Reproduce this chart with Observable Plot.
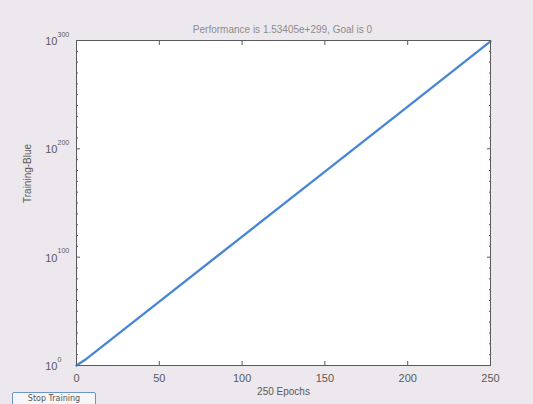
<!DOCTYPE html>
<html>
<head>
<meta charset="utf-8">
<script src="https://cdn.jsdelivr.net/npm/d3@7"></script>
<script src="https://cdn.jsdelivr.net/npm/@observablehq/plot@0.6"></script>
<style>
  html, body { margin: 0; padding: 0; background: #ece8ed; }
  #wrap { position: relative; width: 533px; height: 404px; overflow: hidden; }
  #btn { position: absolute; left: 12px; top: 392px; width: 84px; height: 16px; box-sizing: border-box;
         border: 1px solid #6f93c8; border-radius: 2px; background: #f6f6f8; font: 8px "DejaVu Sans", sans-serif;
         color: #555; text-align: center; line-height: 12px; }
</style>
</head>
<body>
<div id="wrap"><div id="btn">Stop Training</div></div>
<script>
// Data
const epochs = [0, 2, 5, 10, 25, 50, 100, 150, 200, 250];
const performance = [1, 1e2, 1e5, 1e11, 1e29, 1e59, 1e119, 1e179, 1e239, 1.53405e299];
const xTicks = [0, 50, 100, 150, 200, 250];
const yTickExponents = [0, 100, 200, 300];
const yTicks = [1e0, 1e100, 1e200, 1e300];
const minorExponents = [10,20,30,40,50,60,70,80,90,110,120,130,140,150,160,170,180,190,210,220,230,240,250,260,270,280,290];
const titleText = "Performance is 1.53405e+299, Goal is 0";
const xLabel = "250 Epochs";
const yLabel = "Training-Blue";

const data = epochs.map((e, i) => ({epoch: e, perf: performance[i]}));
const minorTicks = minorExponents.map(e => Math.pow(10, e));
const gray = "#5a5a5a";

const chart = Plot.plot({
  width: 533,
  height: 404,
  marginLeft: 76,
  marginRight: 43,
  marginTop: 40,
  marginBottom: 39,
  style: {background: "transparent", fontFamily: "Arial, 'Liberation Sans', sans-serif", color: gray},
  x: {domain: [0, 250], ticks: xTicks},
  y: {type: "log", domain: [1, 1e300], ticks: yTicks},
  marks: [
    Plot.frame({fill: "white", stroke: "none"}),
    Plot.axisX({anchor: "bottom", ticks: xTicks, tickSize: -4, tickPadding: 13, fontSize: 11, label: null, stroke: gray}),
    Plot.axisX({anchor: "top", ticks: xTicks, tickSize: -4, tickFormat: () => "", label: null, stroke: gray}),
    Plot.axisY({anchor: "left", ticks: yTicks, tickSize: -4, tickFormat: () => "", label: null, stroke: gray}),
    Plot.axisY({anchor: "right", ticks: yTicks, tickSize: -4, tickFormat: () => "", label: null, stroke: gray}),
    Plot.axisY({anchor: "left", ticks: minorTicks, tickSize: -2, tickFormat: () => "", label: null, stroke: gray}),
    Plot.axisY({anchor: "right", ticks: minorTicks, tickSize: -2, tickFormat: () => "", label: null, stroke: gray}),
    Plot.text(yTicks, {y: d => d, frameAnchor: "left", text: () => "10", textAnchor: "end", dx: -19, dy: 1, fontSize: 11, fill: gray}),
    Plot.text(yTicks, {y: d => d, frameAnchor: "left", text: (d, i) => String(yTickExponents[i]), textAnchor: "start", dx: -19, dy: -6, fontSize: 7, fill: gray}),
    Plot.text([xLabel], {frameAnchor: "bottom", dx: 0, dy: 29, text: d => d, fontSize: 10, fill: gray}),
    Plot.text([yLabel], {frameAnchor: "left", dx: -49, rotate: -90, text: d => d, fontSize: 10, fill: gray}),
    Plot.text([titleText], {frameAnchor: "top", dx: -1, dy: -15, text: d => d, fontSize: 10, fill: "#8c8c8c"}),
    Plot.line(data, {x: "epoch", y: "perf", stroke: "#4a86d6", strokeWidth: 2.4}),
    Plot.frame({stroke: gray, strokeWidth: 1})
  ]
});
document.getElementById("wrap").prepend(chart);
</script>
</body>
</html>
